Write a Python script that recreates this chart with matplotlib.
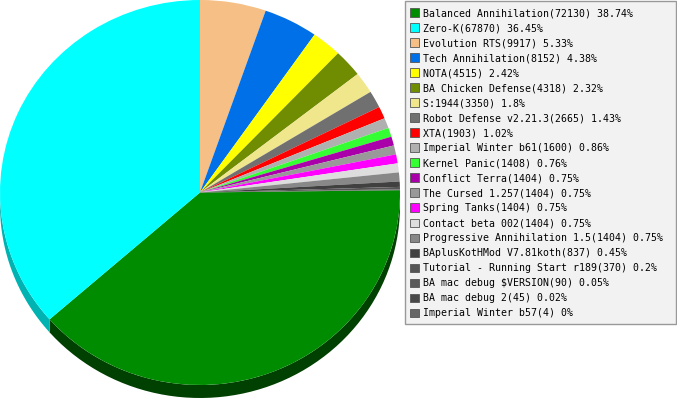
import numpy as np
import matplotlib
matplotlib.use("Agg")
import matplotlib.pyplot as plt
from matplotlib.patches import Polygon, Patch, Rectangle
from matplotlib.colors import to_rgb


names = [
    "Balanced Annihilation", "Zero-K", "Evolution RTS", "Tech Annihilation",
    "NOTA", "BA Chicken Defense", "S:1944", "Robot Defense v2.21.3", "XTA",
    "Imperial Winter b61", "Kernel Panic", "Conflict Terra", "The Cursed 1.257",
    "Spring Tanks", "Contact beta 002", "Progressive Annihilation 1.5",
    "BAplusKotHMod V7.81koth", "Tutorial - Running Start r189",
    "BA mac debug $VERSION", "BA mac debug 2", "Imperial Winter b57",
]
counts = [72130, 67870, 9917, 8152, 4515, 4318, 3350, 2665, 1903, 1600,
          1408, 1404, 1404, 1404, 1404, 1404, 837, 370, 90, 45, 4]
colors = ["#008c00", "#00ffff", "#f5bf85", "#0070e8", "#ffff00", "#708c00",
          "#f0e68c", "#707070", "#ff0000", "#b0b0b0", "#33ff33", "#aa00aa",
          "#999999", "#ff00ff", "#dddddd", "#888888", "#404040", "#555555",
          "#5a5a5a", "#484848", "#666666"]

total = sum(counts)
pcts = [100.0 * c / total for c in counts]
labels = [f"{n}({c}) {round(p, 2):g}%" for n, c, p in zip(names, counts, pcts)]

W, H = 677, 400
fig = plt.figure(figsize=(W / 100, H / 100), dpi=100)

# pie area: ellipse 400 x 385 px, 13 px thick rim
depth = 13 / 192.5
ax = fig.add_axes([0, 2 / H, 400 / W, 398 / H])

# first slice starts so that Zero-K ends at 12 o'clock
start = 90 + 360 * (counts[0] + counts[1]) / total - 360
wedges, _ = ax.pie(counts, colors=colors, startangle=start, counterclock=False,
                   radius=1, wedgeprops=dict(linewidth=0, zorder=3))
ax.set_aspect("auto")
ax.set_xlim(-1, 1)
ax.set_ylim(-1 - depth, 1)
ax.axis("off")

# side of the 3d pie (only lower half is visible)
for w, col in zip(wedges, colors):
    t1, t2 = w.theta1, w.theta2
    dark = tuple(max(v - 0.3, 0) for v in to_rgb(col))
    for k in range(-2, 2):
        a = max(t1, 180 + 360 * k)
        b = min(t2, 360 + 360 * k)
        if b <= a:
            continue
        t = np.radians(np.linspace(a, b, 60))
        top = np.column_stack([np.cos(t), np.sin(t)])
        bot = np.column_stack([np.cos(t[::-1]), np.sin(t[::-1]) - depth])
        ax.add_patch(Polygon(np.vstack([top, bot]), closed=True,
                             facecolor=dark, edgecolor="none", zorder=2))

# legend box
fig.patches.append(Rectangle((405 / W, 1 - 324 / H), 271 / W, 323 / H,
                             transform=fig.transFigure, facecolor="#f2f2f2",
                             edgecolor="#999999", linewidth=1))
handles = [Patch(facecolor=c, edgecolor="#555555", linewidth=0.6) for c in colors]
fig.legend(handles, labels, loc="upper left",
           bbox_to_anchor=(410 / W, 1 - 8 / H), frameon=False,
           borderaxespad=0, borderpad=0,
           prop={"family": "DejaVu Sans Mono", "size": 7.15},
           handlelength=0.95, handleheight=0.95, handletextpad=0.4,
           labelspacing=0.505)

fig.savefig("out.png", dpi=100)
